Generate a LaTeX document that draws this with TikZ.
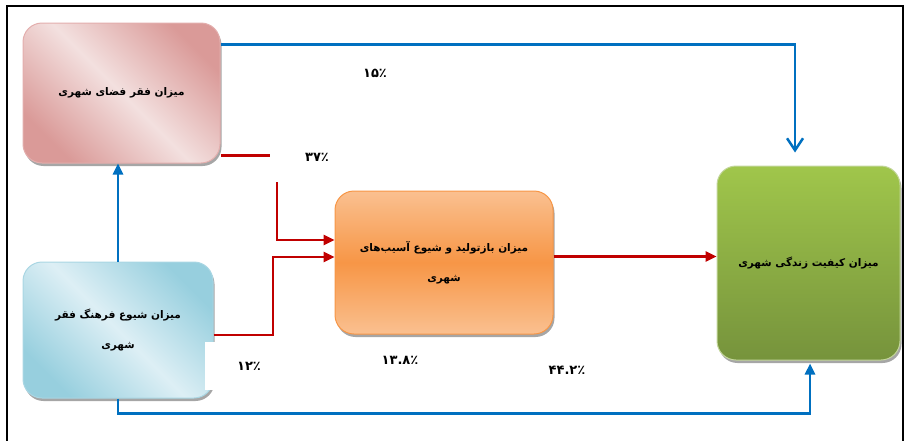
\documentclass[tikz,border=0pt]{standalone}
\usepackage{fontspec}
\usetikzlibrary{arrows.meta,shadows,calc}
\TeXXeTstate=1
\newfontfamily\arabicfont[Script=Arabic]{DejaVu Sans}
\newfontfamily\numfont{DejaVu Sans}
\definecolor{pinkdark}{HTML}{DA9A98}
\definecolor{pinklight}{HTML}{F3E0DF}
\definecolor{pinkedge}{HTML}{E3AEAD}
\definecolor{bluedark}{HTML}{97CFDE}
\definecolor{bluelight}{HTML}{DDEFF5}
\definecolor{blueedge}{HTML}{A9D6E3}
\definecolor{orangetop}{HTML}{FAC090}
\definecolor{orangemid}{HTML}{F79646}
\definecolor{orangeedge}{HTML}{F79646}
\definecolor{greentop}{HTML}{A0C64B}
\definecolor{greenbot}{HTML}{76933C}
\definecolor{greenedge}{HTML}{C3D69B}
\definecolor{shadowgray}{HTML}{A6A6A6}
\definecolor{linkblue}{HTML}{0070C0}
\definecolor{linkred}{HTML}{C00000}
\begin{document}
\begin{tikzpicture}[x=1pt,y=-1pt,
  box/.style={rectangle, rounded corners=19pt, draw, line width=1pt, inner sep=0pt,
    align=center, font=\arabicfont\bfseries\fontsize{10.5}{30}\selectfont,
    drop shadow={shadow xshift=1.5pt, shadow yshift=-3pt, fill=shadowgray, opacity=1}},
  pinkbox/.style={draw=pinkedge, left color=pinkdark, right color=pinkdark, middle color=pinklight, shading angle=135},
  bluebox/.style={draw=blueedge, left color=bluedark, right color=bluedark, middle color=bluelight, shading angle=135},
  orangebox/.style={draw=orangeedge, top color=orangetop, bottom color=orangetop, middle color=orangemid},
  greenbox/.style={draw=greenedge, top color=greentop, bottom color=greenbot},
  blueline/.style={draw=linkblue, line width=2.5pt},
  redline/.style={draw=linkred, line width=2.5pt},
  tri/.style={-{Triangle[length=11pt,width=10pt]}},
  lab/.style={fill=white, inner sep=0pt, font=\numfont\bfseries\fontsize{13}{15}\selectfont}
]
\useasboundingbox (0,0) rectangle (905,440);
\draw[line width=2pt] (7,442) -- (7,6) -- (903,6) -- (903,442);

\node[box, pinkbox, minimum width=197pt, minimum height=140pt] (b1) at (121.5,93)
  {\beginR میزان فقر فضای شهری\endR};
\node[box, bluebox, minimum width=190pt, minimum height=136pt] (b2) at (118,330)
  {\beginR میزان شیوع فرهنگ فقر\endR\\\beginR شهری\endR};
\node[box, orangebox, minimum width=218pt, minimum height=143pt] (b3) at (444,262.5)
  {\beginR میزان بازتولید و شیوع آسیب‌های\endR\\\beginR شهری\endR};
\node[box, greenbox, minimum width=183pt, minimum height=194pt] (b4) at (808.5,263)
  {\beginR میزان کیفیت زندگی شهری\endR};

\coordinate (k1) at (277,240);
\coordinate (k2) at (273,257);
\path ([yshift=6pt]b3.east) coordinate (s6);

\draw[blueline, -{Straight Barb[length=12pt,width=16pt]}]
  ([yshift=-22pt]b1.north east) -| ([xshift=-13.5pt,yshift=13pt]b4.north);
\draw[blueline, tri] (b2.north) -- (b2.north |- b1.south);
\draw[blueline, tri] (b2.south) -- ++(0,15) -| ([xshift=1.5pt,yshift=-3pt]b4.south);
\draw[redline, tri] ([yshift=8pt]b1.south east) -| (k1) -- (k1 -| b3.west);
\draw[redline, tri] ([yshift=-5pt]b2.east) -| (k2) -- (k2 -| b3.west);
\draw[redline, tri] (s6) -- (s6 -| b4.west);

\node[lab, minimum width=94pt, minimum height=50pt] (l37) at (317,157) {۳۷٪};
\node[lab, minimum width=88pt, minimum height=48pt] (l12) at (249,366) {۱۲٪};
\node[lab] (l15) at (375,73) {۱۵٪};
\node[lab] (l138) at (400,360) {۱۳.۸٪};
\node[lab] (l442) at (567,370) {۴۴.۲٪};
\end{tikzpicture}
\end{document}
